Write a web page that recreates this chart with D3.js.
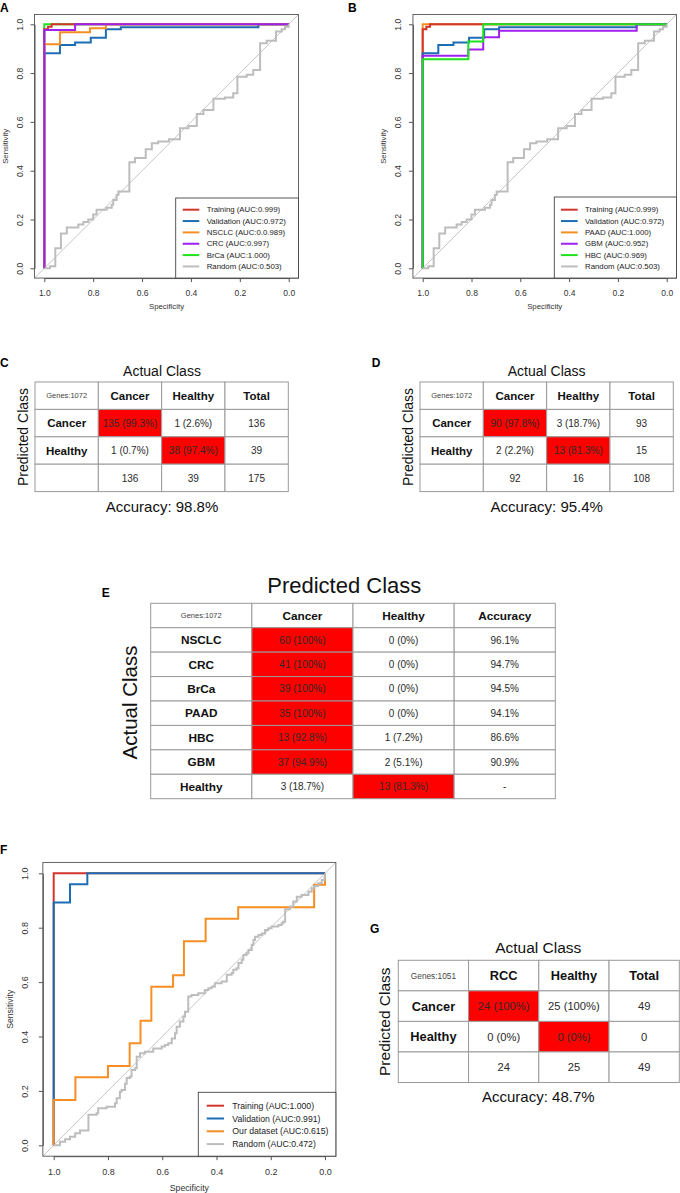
<!DOCTYPE html>
<html><head><meta charset="utf-8">
<script src="https://cdn.jsdelivr.net/npm/d3@7"></script>
<style>body{margin:0;background:#fff} svg text{font-family:"Liberation Sans",Arial,Helvetica,sans-serif}</style>
</head><body><script>
// ---------------- DATA ----------------
const specTicks = [1.0, 0.8, 0.6, 0.4, 0.2, 0.0];
const sensTicks = [0.0, 0.2, 0.4, 0.6, 0.8, 1.0];

// ROC curves: [specificity, sensitivity] vertices
const rocTraining = [[1,0],[1,0.98],[0.985,0.98],[0.985,0.99],[0.97,0.99],[0.97,1],[0,1]];
const rocValidation = [[1,0],[1,0.881],[0.936,0.881],[0.936,0.915],[0.874,0.915],[0.874,0.925],[0.81,0.925],[0.81,0.945],[0.748,0.945],[0.748,0.98],[0.687,0.98],[0.687,0.988],[0.124,0.988],[0.124,1],[0,1]];
const rocNSCLC = [[1,0],[1,0.918],[0.936,0.918],[0.936,0.967],[0.813,0.967],[0.813,0.984],[0.748,0.984],[0.748,1],[0,1]];
const rocCRC = [[1,0],[1,0.977],[0.874,0.977],[0.874,1],[0,1]];
const rocBrCa = [[1,0],[1,1],[0,1]];
const rocPAAD = [[1,0],[1,1],[0,1]];
const rocGBM = [[1,0],[1,0.871],[0.813,0.871],[0.813,0.897],[0.752,0.897],[0.752,0.947],[0.687,0.947],[0.687,0.974],[0.123,0.974],[0.123,1],[0,1]];
const rocHBC = [[1,0],[1,0.857],[0.813,0.857],[0.813,0.929],[0.752,0.929],[0.752,1],[0,1]];
const rocRandomAB = [[1,0],[0.977,0],[0.977,0.008],[0.955,0.008],[0.955,0.082],[0.932,0.082],[0.932,0.143],[0.908,0.143],[0.908,0.167],[0.861,0.167],[0.861,0.18],[0.84,0.18],[0.84,0.19],[0.82,0.19],[0.82,0.2],[0.8,0.2],[0.8,0.22],[0.786,0.22],[0.786,0.24],[0.745,0.24],[0.745,0.248],[0.724,0.248],[0.724,0.26],[0.718,0.26],[0.718,0.28],[0.704,0.28],[0.704,0.3],[0.697,0.3],[0.697,0.315],[0.652,0.315],[0.652,0.435],[0.629,0.435],[0.629,0.452],[0.585,0.452],[0.585,0.488],[0.56,0.488],[0.56,0.512],[0.534,0.512],[0.534,0.52],[0.49,0.52],[0.49,0.529],[0.445,0.529],[0.445,0.574],[0.41,0.574],[0.41,0.583],[0.376,0.583],[0.376,0.632],[0.349,0.632],[0.349,0.649],[0.308,0.649],[0.308,0.695],[0.261,0.695],[0.261,0.7],[0.227,0.7],[0.227,0.717],[0.21,0.717],[0.21,0.785],[0.172,0.785],[0.172,0.793],[0.145,0.793],[0.145,0.813],[0.117,0.813],[0.117,0.922],[0.09,0.922],[0.09,0.933],[0.052,0.933],[0.052,0.97],[0.029,0.97],[0.029,0.98],[0.015,0.98],[0.015,0.99],[0,0.99],[0,1]];

const rocTrainingF = [[1,0],[1,1],[0,1]];
const rocValidationF = [[1,0],[1,0.893],[0.94,0.893],[0.94,0.96],[0.876,0.96],[0.876,1],[0,1]];
const rocOurDataset = [[1,0],[1,0.167],[0.92,0.167],[0.92,0.25],[0.8,0.25],[0.8,0.292],[0.72,0.292],[0.72,0.375],[0.68,0.375],[0.68,0.458],[0.64,0.458],[0.64,0.583],[0.56,0.583],[0.56,0.625],[0.52,0.625],[0.52,0.75],[0.44,0.75],[0.44,0.833],[0.32,0.833],[0.32,0.875],[0.04,0.875],[0.04,0.958],[0,0.958],[0,1]];
const rocRandomF = [[1,0],[0.977,0],[0.977,0.013],[0.958,0.013],[0.958,0.022],[0.94,0.022],[0.94,0.031],[0.921,0.031],[0.921,0.044],[0.903,0.044],[0.903,0.054],[0.872,0.054],[0.872,0.112],[0.842,0.112],[0.842,0.118],[0.836,0.118],[0.836,0.136],[0.805,0.136],[0.805,0.142],[0.774,0.142],[0.774,0.155],[0.768,0.155],[0.768,0.173],[0.756,0.173],[0.756,0.197],[0.75,0.197],[0.75,0.203],[0.737,0.203],[0.737,0.226],[0.731,0.226],[0.731,0.247],[0.719,0.247],[0.719,0.253],[0.713,0.253],[0.713,0.277],[0.7,0.277],[0.7,0.283],[0.694,0.283],[0.694,0.326],[0.682,0.326],[0.682,0.338],[0.664,0.338],[0.664,0.344],[0.633,0.344],[0.633,0.356],[0.602,0.356],[0.602,0.363],[0.59,0.363],[0.59,0.369],[0.578,0.369],[0.578,0.375],[0.565,0.375],[0.565,0.393],[0.553,0.393],[0.553,0.412],[0.547,0.412],[0.547,0.436],[0.535,0.436],[0.535,0.455],[0.522,0.455],[0.522,0.473],[0.516,0.473],[0.516,0.491],[0.504,0.491],[0.504,0.547],[0.492,0.547],[0.492,0.553],[0.467,0.553],[0.467,0.559],[0.443,0.559],[0.443,0.571],[0.43,0.571],[0.43,0.577],[0.418,0.577],[0.418,0.583],[0.406,0.583],[0.406,0.596],[0.381,0.596],[0.381,0.602],[0.362,0.602],[0.362,0.627],[0.344,0.627],[0.344,0.633],[0.338,0.633],[0.338,0.645],[0.326,0.645],[0.326,0.651],[0.319,0.651],[0.319,0.67],[0.307,0.67],[0.307,0.682],[0.301,0.682],[0.301,0.7],[0.289,0.7],[0.289,0.706],[0.282,0.706],[0.282,0.718],[0.27,0.718],[0.27,0.737],[0.264,0.737],[0.264,0.755],[0.258,0.755],[0.258,0.767],[0.245,0.767],[0.245,0.773],[0.233,0.773],[0.233,0.779],[0.221,0.779],[0.221,0.792],[0.209,0.792],[0.209,0.798],[0.197,0.798],[0.197,0.804],[0.172,0.804],[0.172,0.81],[0.16,0.81],[0.16,0.816],[0.154,0.816],[0.154,0.822],[0.147,0.822],[0.147,0.868],[0.129,0.868],[0.129,0.878],[0.117,0.878],[0.117,0.896],[0.104,0.896],[0.104,0.914],[0.086,0.914],[0.086,0.92],[0.061,0.92],[0.061,0.932],[0.049,0.932],[0.049,0.945],[0.039,0.945],[0.039,0.953],[0.025,0.953],[0.025,0.963],[0.012,0.963],[0.012,0.975],[0.002,0.975],[0,1]];

const legendA = ["Training (AUC:0.999)","Validation (AUC:0.972)","NSCLC (AUC:0.0.989)","CRC (AUC:0.997)","BrCa (AUC:1.000)","Random (AUC:0.503)"];
const legendB = ["Training (AUC:0.999)","Validation (AUC:0.972)","PAAD (AUC:1.000)","GBM (AUC:0.952)","HBC (AUC:0.969)","Random (AUC:0.503)"];
const legendF = ["Training (AUC:1.000)","Validation (AUC:0.991)","Our dataset (AUC:0.615)","Random (AUC:0.472)"];

// Tables
const tableCCols = ["Genes:1072","Cancer","Healthy","Total"];
const tableCRows = ["Cancer","Healthy",""];
const tableCCells = [["135 (99.3%)","1 (2.6%)","136"],["1 (0.7%)","38 (97.4%)","39"],["136","39","175"]];
const accuracyC = "Accuracy: 98.8%";

const tableDCols = ["Genes:1072","Cancer","Healthy","Total"];
const tableDRows = ["Cancer","Healthy",""];
const tableDCells = [["90 (97.8%)","3 (18.7%)","93"],["2 (2.2%)","13 (81.3%)","15"],["92","16","108"]];
const accuracyD = "Accuracy: 95.4%";

const tableECols = ["Genes:1072","Cancer","Healthy","Accuracy"];
const tableERows = ["NSCLC","CRC","BrCa","PAAD","HBC","GBM","Healthy"];
const tableECancer = ["60 (100%)","41 (100%)","39 (100%)","35 (100%)","13 (92.8%)","37 (94.9%)","3 (18.7%)"];
const tableEHealthy = ["0 (0%)","0 (0%)","0 (0%)","0 (0%)","1 (7.2%)","2 (5.1%)","13 (81.3%)"];
const tableEAccuracy = ["96.1%","94.7%","94.5%","94.1%","86.6%","90.9%","-"];

const tableGCols = ["Genes:1051","RCC","Healthy","Total"];
const tableGRows = ["Cancer","Healthy",""];
const tableGCells = [["24 (100%)","25 (100%)","49"],["0 (0%)","0 (0%)","0"],["24","25","49"]];
const accuracyG = "Accuracy: 48.7%";

// ---------------- COLOURS ----------------
const cRed = "#d1352b", cBlue = "#1c6db4", cOrange = "#f68e23", cPurple = "#a020f0", cGreen = "#1ee31e", cGray = "#bdbdbd";

const svg = d3.select("body").append("svg").attr("width", 680).attr("height", 1193);
svg.append("rect").attr("width",680).attr("height",1193).attr("fill","#fff");

function panelLetter(t, x, y){
  svg.append("text").attr("x",x).attr("y",y).attr("font-size",12).attr("font-weight","bold").text(t);
}

function rocPanel(cfg){
  const x = d3.scaleLinear().domain([1,0]).range([cfg.xs1, cfg.xs0]);
  const y = d3.scaleLinear().domain([0,1]).range([cfg.ys0, cfg.ys1]);
  const bx0 = x(1.04), bx1 = x(-0.04), by0 = y(-0.04), by1 = y(1.04);
  const g = svg.append("g");
  const cid = "clip" + cfg.id;
  g.append("clipPath").attr("id",cid).append("rect").attr("x",bx0).attr("y",by1).attr("width",bx1-bx0).attr("height",by0-by1);
  const pg = g.append("g").attr("clip-path",`url(#${cid})`);
  pg.append("line").attr("x1",x(1.04)).attr("y1",y(-0.04)).attr("x2",x(-0.04)).attr("y2",y(1.04))
    .attr("stroke","#b8b8b8").attr("stroke-width",0.8);
  const line = d3.line().x(d=>x(d[0])).y(d=>y(d[1]));
  cfg.drawOrder.forEach(i=>{
    const c = cfg.curves[i];
    pg.append("path").attr("d",line(c.data)).attr("fill","none").attr("stroke",c.color).attr("stroke-width",2)
      .attr("stroke-linejoin","miter").attr("stroke-linecap","butt");
  });
  g.append("rect").attr("x",bx0).attr("y",by1).attr("width",bx1-bx0).attr("height",by0-by1)
    .attr("fill","none").attr("stroke","#555").attr("stroke-width",0.9);
  const xa = g.append("g").attr("transform",`translate(0,${by0})`)
    .call(d3.axisBottom(x).tickValues(specTicks).tickFormat(d3.format(".1f")).tickSize(4).tickSizeOuter(0));
  xa.select(".domain").attr("stroke","#555");
  xa.selectAll(".tick line").attr("stroke","#555");
  xa.selectAll(".tick text").attr("font-size",cfg.tickFont).attr("fill","#333").attr("font-family",null)
    .attr("y",cfg.xTickY - by0).attr("dy","0.35em");
  const ya = g.append("g").attr("transform",`translate(${bx0},0)`)
    .call(d3.axisLeft(y).tickValues(sensTicks).tickFormat(d3.format(".1f")).tickSize(4).tickSizeOuter(0));
  ya.select(".domain").attr("stroke","#555");
  ya.selectAll(".tick line").attr("stroke","#555");
  ya.selectAll(".tick text").attr("font-size",cfg.tickFont).attr("fill","#333").attr("font-family",null)
    .attr("x",null).attr("dy",null).attr("text-anchor","middle")
    .attr("transform",`translate(${cfg.yTickX - bx0},0) rotate(-90)`);
  g.append("text").attr("x",(bx0+bx1)/2).attr("y",cfg.xTitleY).attr("text-anchor","middle")
    .attr("font-size",cfg.titleFont).attr("fill","#333").text("Specificity");
  g.append("text").attr("transform",`translate(${cfg.yTitleX},${(cfg.ys0+cfg.ys1)/2}) rotate(-90)`)
    .attr("text-anchor","middle").attr("font-size",cfg.titleFont).attr("fill","#333").text("Sensitivity");
  const L = cfg.legend;
  g.append("rect").attr("x",L.left).attr("y",L.top).attr("width",bx1-L.left).attr("height",by0-L.top)
    .attr("fill","#fff").attr("stroke","#444").attr("stroke-width",0.9);
  cfg.curves.forEach((c,i)=>{
    const yy = L.row0 + i*L.step;
    g.append("line").attr("x1",L.lx0).attr("x2",L.lx1).attr("y1",yy).attr("y2",yy)
      .attr("stroke",c.color).attr("stroke-width",2);
    g.append("text").attr("x",L.tx).attr("y",yy).attr("dy","0.35em").attr("font-size",L.font)
      .attr("fill","#222").text(c.label);
  });
}

rocPanel({id:"A", xs1:44.3, xs0:288.7, ys0:268.3, ys1:24.3, tickFont:8.5, titleFont:7.8,
  xTickY:293, xTitleY:309, yTickX:23, yTitleX:8,
  curves:[{data:rocTraining,color:cRed,label:legendA[0]},{data:rocValidation,color:cBlue,label:legendA[1]},
          {data:rocNSCLC,color:cOrange,label:legendA[2]},{data:rocCRC,color:cPurple,label:legendA[3]},
          {data:rocBrCa,color:cGreen,label:legendA[4]},{data:rocRandomAB,color:cGray,label:legendA[5]}],
  drawOrder:[4,0,1,2,3,5],
  legend:{left:175.7, top:198, row0:209.7, step:11.35, lx0:182.7, lx1:199.3, tx:206.7, font:7.8}});
panelLetter("A",0,11.7);

rocPanel({id:"B", xs1:422.7, xs0:666.7, ys0:268.3, ys1:24.3, tickFont:8.5, titleFont:7.8,
  xTickY:293, xTitleY:309, yTickX:401, yTitleX:386,
  curves:[{data:rocTraining,color:cRed,label:legendB[0]},{data:rocValidation,color:cBlue,label:legendB[1]},
          {data:rocPAAD,color:cOrange,label:legendB[2]},{data:rocGBM,color:cPurple,label:legendB[3]},
          {data:rocHBC,color:cGreen,label:legendB[4]},{data:rocRandomAB,color:cGray,label:legendB[5]}],
  drawOrder:[2,0,1,3,4,5],
  legend:{left:554.3, top:197, row0:209.7, step:11.35, lx0:561, lx1:577.7, tx:585, font:7.8}});
panelLetter("B",348,11.7);

rocPanel({id:"F", xs1:53.7, xs0:325, ys0:1145.3, ys1:873.3, tickFont:9, titleFont:8.7,
  xTickY:1172.3, xTitleY:1191, yTickX:28, yTitleX:13,
  curves:[{data:rocTrainingF,color:cRed,label:legendF[0]},{data:rocValidationF,color:cBlue,label:legendF[1]},
          {data:rocOurDataset,color:cOrange,label:legendF[2]},{data:rocRandomF,color:cGray,label:legendF[3]}],
  drawOrder:[0,1,2,3],
  legend:{left:198.3, top:1092.3, row0:1105.7, step:12.8, lx0:206.7, lx1:224, tx:232.3, font:8.7}});
panelLetter("F",0,854);

// ---------------- TABLES ----------------
function table(cfg){
  const nc = cfg.header.length, nr = cfg.body.length + 1;
  const xb = d3.scaleBand().domain(d3.range(nc)).range([cfg.x0,cfg.x1]);
  const yb = d3.scaleBand().domain(d3.range(nr)).range([cfg.y0,cfg.y1]);
  const g = svg.append("g");
  const cells = [];
  cfg.header.forEach((t,c)=>cells.push({r:0,c,t,kind:c===0?"genes":"head"}));
  cfg.body.forEach((row,r)=>row.forEach((t,c)=>cells.push({r:r+1,c,t,kind:c===0?"head":"val",
     fill: cfg.highlight.some(h=>h[0]===r && h[1]===c)})));
  g.selectAll("rect.cell").data(cells).join("rect").attr("class","cell")
    .attr("x",d=>xb(d.c)).attr("y",d=>yb(d.r)).attr("width",xb.bandwidth()).attr("height",yb.bandwidth())
    .attr("fill",d=>d.fill?"#ff0000":"#fff").attr("stroke","#9a9a9a").attr("stroke-width",1);
  g.selectAll("text.cell").data(cells).join("text").attr("class","cell")
    .attr("x",d=>xb(d.c)+xb.bandwidth()/2).attr("y",d=>yb(d.r)+yb.bandwidth()/2).attr("dy","0.36em")
    .attr("text-anchor","middle")
    .attr("font-size",d=>d.kind==="genes"?cfg.fGenes:d.kind==="head"?cfg.fHead:cfg.fVal)
    .attr("font-weight",d=>d.kind==="head"?"bold":"normal")
    .attr("fill",d=>d.kind==="head"?"#111":d.kind==="genes"?"#444":"#2a2a2a")
    .text(d=>d.t);
}

function label(t,x,y,size,rot){
  const tx = svg.append("text").attr("text-anchor","middle").attr("font-size",size).attr("fill","#111").text(t);
  if(rot) tx.attr("transform",`translate(${x},${y}) rotate(-90)`); else tx.attr("x",x).attr("y",y);
}

table({x0:35,x1:288.3,y0:382,y1:491.6,header:tableCCols,
  body:tableCRows.map((r,i)=>[r,...tableCCells[i]]),highlight:[[0,1],[1,2]],fGenes:7.5,fHead:11.5,fVal:10});
label("Actual Class",162,376,14,false);
label("Predicted Class",28,437,14,true);
label(accuracyC,162,511.5,15,false);
panelLetter("C",0,366.7);

table({x0:420,x1:673.3,y0:382,y1:491.6,header:tableDCols,
  body:tableDRows.map((r,i)=>[r,...tableDCells[i]]),highlight:[[0,1],[1,2]],fGenes:7.5,fHead:11.5,fVal:10});
label("Actual Class",546.7,376,14,false);
label("Predicted Class",413,437,14,true);
label(accuracyD,546.7,511.5,15,false);
panelLetter("D",371.7,366.7);

table({x0:150.7,x1:555.3,y0:603.3,y1:798.7,header:tableECols,
  body:tableERows.map((r,i)=>[r,tableECancer[i],tableEHealthy[i],tableEAccuracy[i]]),
  highlight:[[0,1],[1,1],[2,1],[3,1],[4,1],[5,1],[6,2]],fGenes:7.5,fHead:11.8,fVal:10});
label("Predicted Class",344.3,593,22,false);
label("Actual Class",137,702.5,20.5,true);
panelLetter("E",101.7,597.3);

table({x0:398.3,x1:679.3,y0:960.3,y1:1082.5,header:tableGCols,
  body:tableGRows.map((r,i)=>[r,...tableGCells[i]]),highlight:[[0,1],[1,2]],fGenes:8.3,fHead:12.8,fVal:11.2});
label("Actual Class",538.3,953,15.5,false);
label("Predicted Class",390,1021.7,15.5,true);
label(accuracyG,538.3,1102,15,false);
panelLetter("G",370,932.7);
</script></body></html>
